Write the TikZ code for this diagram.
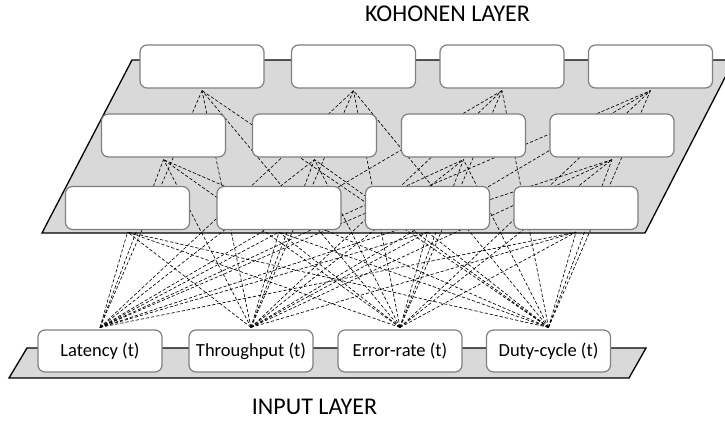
\documentclass[tikz,border=0pt]{standalone}
\usepackage{fontspec}
\setmainfont{Carlito}
\usetikzlibrary{backgrounds}
\definecolor{planegray}{RGB}{217,217,217}
\definecolor{boxgray}{RGB}{128,128,128}
\begin{document}
\begin{tikzpicture}[x=1pt,y=-1pt,
  plane/.style={fill=planegray, draw=black, line width=1.3pt, line join=miter},
  kbox/.style={draw=boxgray, fill=white, line width=1.2pt, rounded corners=7pt,
    minimum width=124pt, minimum height=43pt, inner sep=0pt},
  ibox/.style={kbox, minimum height=42pt, font=\fontsize{18.5}{21}\selectfont},
  link/.style={draw=black, line width=0.65pt, dash pattern=on 3.2pt off 2pt},
  lbl/.style={font=\fontsize{24}{28}\selectfont, inner sep=0pt}]
\useasboundingbox (0,0) rectangle (725,423);

% Kohonen nodes
\node[kbox] (k1) at (202,66.5) {};
\node[kbox] (k2) at (353.5,66.5) {};
\node[kbox] (k3) at (502,66.5) {};
\node[kbox] (k4) at (650.5,66.5) {};
\node[kbox] (k5) at (163.5,135.5) {};
\node[kbox] (k6) at (314.5,135.5) {};
\node[kbox] (k7) at (463.5,135.5) {};
\node[kbox] (k8) at (612,135.5) {};
\node[kbox] (k9) at (127.5,208) {};
\node[kbox] (k10) at (279,208) {};
\node[kbox] (k11) at (427.5,208) {};
\node[kbox] (k12) at (576,208) {};

% Input nodes
\node[ibox] (i1) at (100,351) {Latency (t)};
\node[ibox] (i2) at (251,351) {Throughput (t)};
\node[ibox] (i3) at (400,351) {Error-rate (t)};
\node[ibox] (i4) at (548.5,351) {Duty-cycle (t)};

% Labels
\node[lbl] (kl) at (447.5,13.5) {KOHONEN LAYER};
\node[lbl] (il) at (314.5,406.5) {INPUT LAYER};

\begin{scope}[on background layer]
  \draw[plane] (132,60) -- (734,60) -- (645,233) -- (42,233) -- cycle;
  \draw[plane] (27,348) -- (646,348) -- (629,378) -- (9,378) -- cycle;
  \foreach \i in {1,...,4}{
    \foreach \k in {1,...,12}{
      \draw[link] ([yshift=2pt]i\i.north) -- ([yshift=-2pt]k\k.south);
    }
  }
\end{scope}
\end{tikzpicture}
\end{document}
